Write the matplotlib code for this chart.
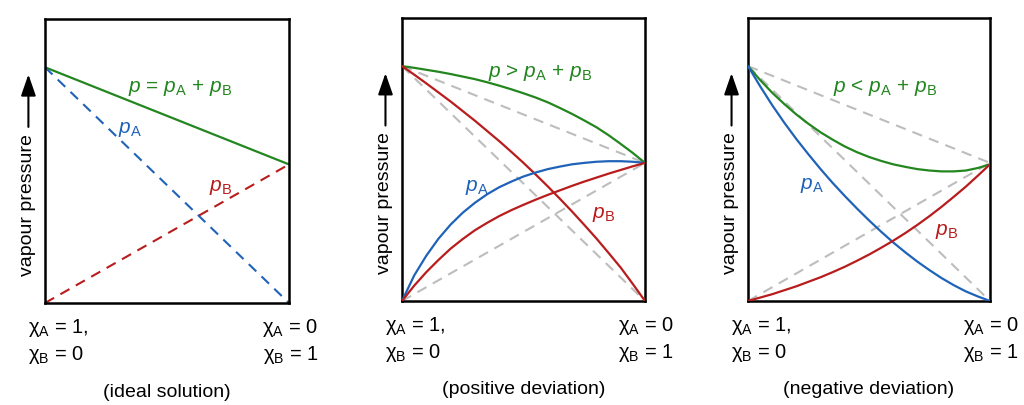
import matplotlib
matplotlib.use("Agg")
import matplotlib.pyplot as plt

plt.rcParams["font.family"] = ["Liberation Sans", "DejaVu Sans"]
plt.rcParams["mathtext.fontset"] = "custom"
plt.rcParams["mathtext.rm"] = "Liberation Sans"
plt.rcParams["mathtext.it"] = "Liberation Sans:italic"

# --- data (x = mole fraction of B, y = vapour pressure, box top = 1) ---
p_a_star = 0.83
p_b_star = 0.488

x_pts = [0.0, 0.05, 0.1, 0.15, 0.2, 0.25, 0.3, 0.35, 0.4, 0.45, 0.5,
         0.55, 0.6, 0.65, 0.7, 0.75, 0.8, 0.85, 0.9, 0.95, 1.0]

# positive deviation
pos_total = [0.83, 0.824, 0.817, 0.810, 0.802, 0.793, 0.784, 0.773, 0.761, 0.748, 0.734,
             0.719, 0.702, 0.682, 0.661, 0.638, 0.614, 0.586, 0.555, 0.523, 0.488]
pos_red_down = [0.83, 0.800, 0.769, 0.737, 0.705, 0.671, 0.637, 0.601, 0.565, 0.527, 0.488,
                0.447, 0.405, 0.361, 0.316, 0.269, 0.221, 0.170, 0.118, 0.060, 0.0]
pos_blue_up = [0.0, 0.09, 0.16, 0.22, 0.27, 0.312, 0.347, 0.377, 0.402, 0.422, 0.44,
               0.454, 0.466, 0.475, 0.483, 0.488, 0.492, 0.494, 0.494, 0.492, 0.488]
pos_red_up = [0.0, 0.054, 0.102, 0.145, 0.185, 0.219, 0.25, 0.276, 0.30, 0.321, 0.34,
              0.358, 0.375, 0.391, 0.407, 0.422, 0.436, 0.45, 0.463, 0.476, 0.488]

# negative deviation
neg_total = [0.83, 0.781, 0.736, 0.696, 0.659, 0.626, 0.596, 0.57, 0.546, 0.526, 0.509,
             0.495, 0.483, 0.474, 0.466, 0.461, 0.458, 0.458, 0.461, 0.47, 0.483]
neg_blue_down = [0.83, 0.759, 0.692, 0.63, 0.572, 0.518, 0.466, 0.417, 0.371, 0.327, 0.285,
                 0.245, 0.207, 0.172, 0.139, 0.109, 0.081, 0.056, 0.034, 0.016, 0.0]
neg_red_up = [0.0, 0.012, 0.024, 0.038, 0.052, 0.068, 0.084, 0.102, 0.121, 0.142, 0.164,
              0.188, 0.213, 0.24, 0.269, 0.3, 0.333, 0.368, 0.404, 0.443, 0.483]

GREEN = "#23861f"
BLUE = "#1f63b8"
RED = "#b81c1c"
GRAY = "#bdbdbd"

W, H = 1024, 406
fig = plt.figure(figsize=(W / 100, H / 100), dpi=100)

LBL = 14.5
DASH = (0, (5, 3.5))


def make_axes(x0, x1, top, bottom):
    ax = fig.add_axes([x0 / W, 1 - bottom / H, (x1 - x0) / W, (bottom - top) / H])
    ax.set_xlim(0, 1)
    ax.set_ylim(0, 1)
    ax.set_xticks([])
    ax.set_yticks([])
    for s in ax.spines.values():
        s.set_linewidth(1.8)
    # y label with arrow
    ax.text(-0.072, 0.35, "vapour pressure", rotation=90, fontsize=14,
            ha="center", va="center", transform=ax.transAxes)
    ax.annotate("", xy=(-0.068, 0.805), xytext=(-0.068, 0.62),
                xycoords="axes fraction",
                arrowprops=dict(arrowstyle="-|>,head_width=0.45,head_length=1.3",
                                color="black", lw=1.5, shrinkA=0, shrinkB=0),
                annotation_clip=False)
    # bottom labels
    ax.text(-0.07, -0.085, r"$\mathrm{\chi}_\mathrm{A}$ = 1,", fontsize=LBL,
            ha="left", va="center", transform=ax.transAxes)
    ax.text(-0.07, -0.18, r"$\mathrm{\chi}_\mathrm{B}$ = 0", fontsize=LBL,
            ha="left", va="center", transform=ax.transAxes)
    ax.text(1.12, -0.085, r"$\mathrm{\chi}_\mathrm{A}$ = 0", fontsize=LBL,
            ha="right", va="center", transform=ax.transAxes)
    ax.text(1.12, -0.18, r"$\mathrm{\chi}_\mathrm{B}$ = 1", fontsize=LBL,
            ha="right", va="center", transform=ax.transAxes)
    return ax


def ideal_guides(ax):
    kw = dict(color=GRAY, lw=1.5, ls=DASH, zorder=1)
    ax.plot([0, 1], [p_a_star, 0], **kw)
    ax.plot([0, 1], [0, p_b_star], **kw)
    ax.plot([0, 1], [p_a_star, p_b_star], **kw)


def curve(ax, y, color):
    ax.plot(x_pts, y, color=color, lw=1.6, zorder=3,
            solid_joinstyle="round", solid_capstyle="round")


# --- panel 1: ideal solution ---
ax1 = make_axes(45, 289, 20, 304)
ax1.plot([0, 1], [p_a_star, p_b_star], color=GREEN, lw=1.6)
ax1.plot([0, 1], [p_a_star, 0], color=BLUE, lw=1.5, ls=DASH)
ax1.plot([0, 1], [0, p_b_star], color=RED, lw=1.5, ls=DASH)
ax1.text(0.555, 0.76, r"$p$ = $p_\mathrm{A}$ + $p_\mathrm{B}$", color=GREEN,
         fontsize=15, ha="center", va="center")
ax1.text(0.35, 0.615, r"$p_\mathrm{A}$", color=BLUE, fontsize=15, ha="center", va="center")
ax1.text(0.72, 0.41, r"$p_\mathrm{B}$", color=RED, fontsize=15, ha="center", va="center")
ax1.text(0.5, -0.31, "(ideal solution)", fontsize=14, ha="center", va="center",
         transform=ax1.transAxes)

# --- panel 2: positive deviation ---
ax2 = make_axes(402, 645, 19, 302)
ideal_guides(ax2)
curve(ax2, pos_total, GREEN)
curve(ax2, pos_red_down, RED)
curve(ax2, pos_blue_up, BLUE)
curve(ax2, pos_red_up, RED)
ax2.text(0.568, 0.81, r"$p$ > $p_\mathrm{A}$ + $p_\mathrm{B}$", color=GREEN,
         fontsize=15, ha="center", va="center")
ax2.text(0.307, 0.405, r"$p_\mathrm{A}$", color=BLUE, fontsize=15, ha="center", va="center")
ax2.text(0.828, 0.31, r"$p_\mathrm{B}$", color=RED, fontsize=15, ha="center", va="center")
ax2.text(0.5, -0.31, "(positive deviation)", fontsize=14, ha="center", va="center",
         transform=ax2.transAxes)

# --- panel 3: negative deviation ---
ax3 = make_axes(748, 990, 19, 302)
ideal_guides(ax3)
curve(ax3, neg_total, GREEN)
curve(ax3, neg_blue_down, BLUE)
curve(ax3, neg_red_up, RED)
ax3.text(0.565, 0.755, r"$p$ < $p_\mathrm{A}$ + $p_\mathrm{B}$", color=GREEN,
         fontsize=15, ha="center", va="center")
ax3.text(0.263, 0.41, r"$p_\mathrm{A}$", color=BLUE, fontsize=15, ha="center", va="center")
ax3.text(0.821, 0.25, r"$p_\mathrm{B}$", color=RED, fontsize=15, ha="center", va="center")
ax3.text(0.5, -0.31, "(negative deviation)", fontsize=14, ha="center", va="center",
         transform=ax3.transAxes)

fig.savefig("out.png", dpi=100, facecolor="white")
